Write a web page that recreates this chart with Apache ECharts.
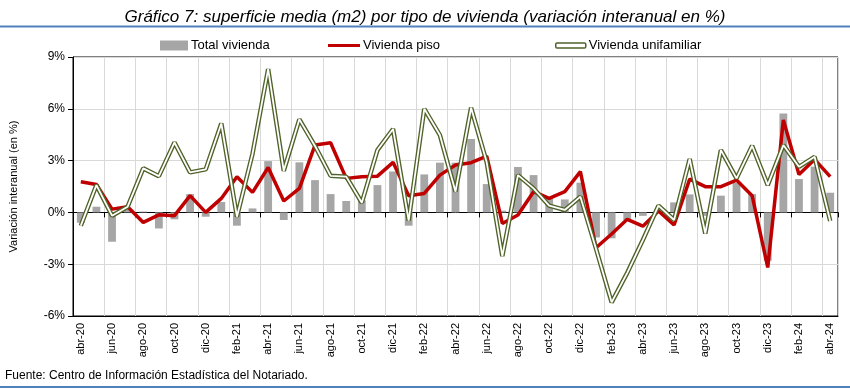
<!DOCTYPE html>
<html>
<head>
<meta charset="utf-8">
<script src="https://cdn.jsdelivr.net/npm/echarts@6/dist/echarts.min.js"></script>
<style>
html,body{margin:0;padding:0;background:#fff;}
#c{width:850px;height:389px;}
</style>
</head>
<body>
<div id="c"></div>
<script>
const categories = ['abr-20','may-20','jun-20','jul-20','ago-20','sep-20','oct-20','nov-20','dic-20',
  'ene-21','feb-21','mar-21','abr-21','may-21','jun-21','jul-21','ago-21','sep-21','oct-21','nov-21','dic-21',
  'ene-22','feb-22','mar-22','abr-22','may-22','jun-22','jul-22','ago-22','sep-22','oct-22','nov-22','dic-22',
  'ene-23','feb-23','mar-23','abr-23','may-23','jun-23','jul-23','ago-23','sep-23','oct-23','nov-23','dic-23',
  'ene-24','feb-24','mar-24','abr-24'];

const totalVivienda = [-0.6,0.33,-1.7,0.2,0.05,-0.93,-0.4,1.06,-0.25,0.6,-0.77,0.23,
  2.97,-0.44,2.9,1.87,1.06,0.66,0.7,1.58,2.37,-0.77,2.2,2.88,
  2.88,4.25,1.64,0.1,2.63,2.16,0.81,0.75,1.72,-1.45,-1.5,-0.45,
  -0.2,0.05,0.58,1.04,-0.2,0.97,1.72,1.06,-2.8,5.73,1.93,2.65,1.14];

const viviendaPiso = [1.78,1.62,0.19,0.33,-0.58,-0.14,-0.19,0.97,0.0,0.81,2.07,1.16,
  2.6,0.66,1.39,3.9,4.03,1.97,2.07,2.1,2.9,0.97,1.1,2.16,
  2.74,2.88,3.26,-0.64,-0.15,1.2,0.81,1.2,2.36,-2.05,-1.25,-0.4,
  -0.8,0.08,-0.73,1.93,1.49,1.49,1.87,0.97,-3.19,5.35,2.2,3.07,2.07];

const viviendaUnifamiliar = [-0.77,1.58,-0.19,0.33,2.55,2.1,4.05,2.32,2.49,5.15,-0.25,3.4,
  8.3,2.41,5.39,3.85,2.12,2.07,0.56,3.61,4.83,-0.48,6.0,4.48,
  1.2,6.06,2.9,-2.53,2.16,1.39,0.39,0.14,0.91,-2.1,-5.21,-3.5,
  -1.6,0.39,-0.44,3.09,-1.22,3.61,1.97,3.86,1.58,3.9,2.64,3.22,-0.5];

const yMin = -6, yMax = 9, yStep = 3;

const chart = echarts.init(document.getElementById('c'), null, {renderer:'canvas'});
const narrow = "'Liberation Sans Narrow','Liberation Sans',Arial,sans-serif";
const sans = "'Liberation Sans',Arial,sans-serif";

chart.setOption({
  animation:false,
  backgroundColor:'#fff',
  title:{
    text:'Gráfico 7: superficie media (m2) por tipo de vivienda (variación interanual en %)',
    left:'center', top:4,
    textStyle:{fontFamily:narrow, fontStyle:'italic', fontWeight:'normal', fontSize:17, color:'#000'}
  },
  graphic:[
    {type:'line', shape:{x1:0,y1:26.5,x2:850,y2:26.5}, style:{stroke:'#4f81bd', lineWidth:2}},
    {type:'line', shape:{x1:0,y1:387,x2:850,y2:387}, style:{stroke:'#4f81bd', lineWidth:2}},
    {type:'text', left:5, top:370, style:{text:'Fuente: Centro de Información Estadística del Notariado.', font:"12px 'Liberation Sans Narrow','Liberation Sans',Arial", fill:'#000'}}
  ],
  legend:[
    {data:['Total vivienda'], left:160, top:39, padding:0, icon:'rect', itemWidth:28, itemHeight:10, itemGap:0,
     textStyle:{fontFamily:sans, fontSize:13, color:'#000', padding:[0,0,0,-2]}},
    {data:['Vivienda piso'], left:328, top:39, padding:0, icon:'rect', itemWidth:32, itemHeight:3,
     textStyle:{fontFamily:sans, fontSize:13, color:'#000', padding:[0,0,0,-2]}},
    {data:[{name:'Vivienda unifamiliar', itemStyle:{color:'#ffffff', borderColor:'#4f6228', borderWidth:1.5}}], left:555, top:39, padding:0,
     icon:'roundRect', itemWidth:30, itemHeight:5,
     textStyle:{fontFamily:sans, fontSize:13, color:'#000', padding:[0,0,0,-2]}}
  ],
  grid:{left:71, right:12, top:57, bottom:73, show:true, borderColor:'#000', borderWidth:1, backgroundColor:'transparent'},
  xAxis:[
    {type:'category', data:categories, position:'bottom', boundaryGap:true,
     axisLine:{show:true, onZero:false, lineStyle:{color:'#000'}},
     axisTick:{show:false},
     axisLabel:{interval:1, rotate:90, fontFamily:sans, fontSize:11, color:'#000', margin:7},
     splitLine:{show:true, interval:1, lineStyle:{color:'#d9d9d9', width:1}}},
    {type:'category', data:categories, position:'bottom', boundaryGap:true,
     axisLine:{show:true, onZero:true, lineStyle:{color:'#000', width:1}},
     axisTick:{show:true, interval:1, length:5, lineStyle:{color:'#000'}},
     axisLabel:{show:false}, splitLine:{show:false}}
  ],
  yAxis:{type:'value', min:yMin, max:yMax, interval:yStep,
    name:'Variación interanual (en %)', nameLocation:'middle', nameGap:54,
    nameTextStyle:{fontFamily:sans, fontSize:11, color:'#000'},
    axisLine:{show:true, lineStyle:{color:'#000'}},
    axisTick:{show:true, length:5, lineStyle:{color:'#000'}},
    axisLabel:{formatter:'{value}%', fontFamily:narrow, fontSize:12, color:'#000', margin:8},
    splitLine:{show:true, lineStyle:{color:'#d9d9d9', width:1}}
  },
  series:[
    {name:'Total vivienda', type:'bar', data:totalVivienda, barWidth:'50%', itemStyle:{color:'#a6a6a6'}, z:1},
    {name:'Vivienda piso', type:'line', data:viviendaPiso, symbol:'none', lineStyle:{color:'#c00000', width:3.5}, itemStyle:{color:'#c00000'}, z:3},
    {name:'Vivienda unifamiliar', type:'line', data:viviendaUnifamiliar, symbol:'none', lineStyle:{color:'#4f6228', width:4.5}, itemStyle:{color:'#4f6228'}, z:4},
    {name:'unifamiliar_inner', type:'line', data:viviendaUnifamiliar, symbol:'none', lineStyle:{color:'#ffffff', width:1.8}, itemStyle:{color:'#ffffff'}, z:5, silent:true}
  ]
});
</script>
</body>
</html>
